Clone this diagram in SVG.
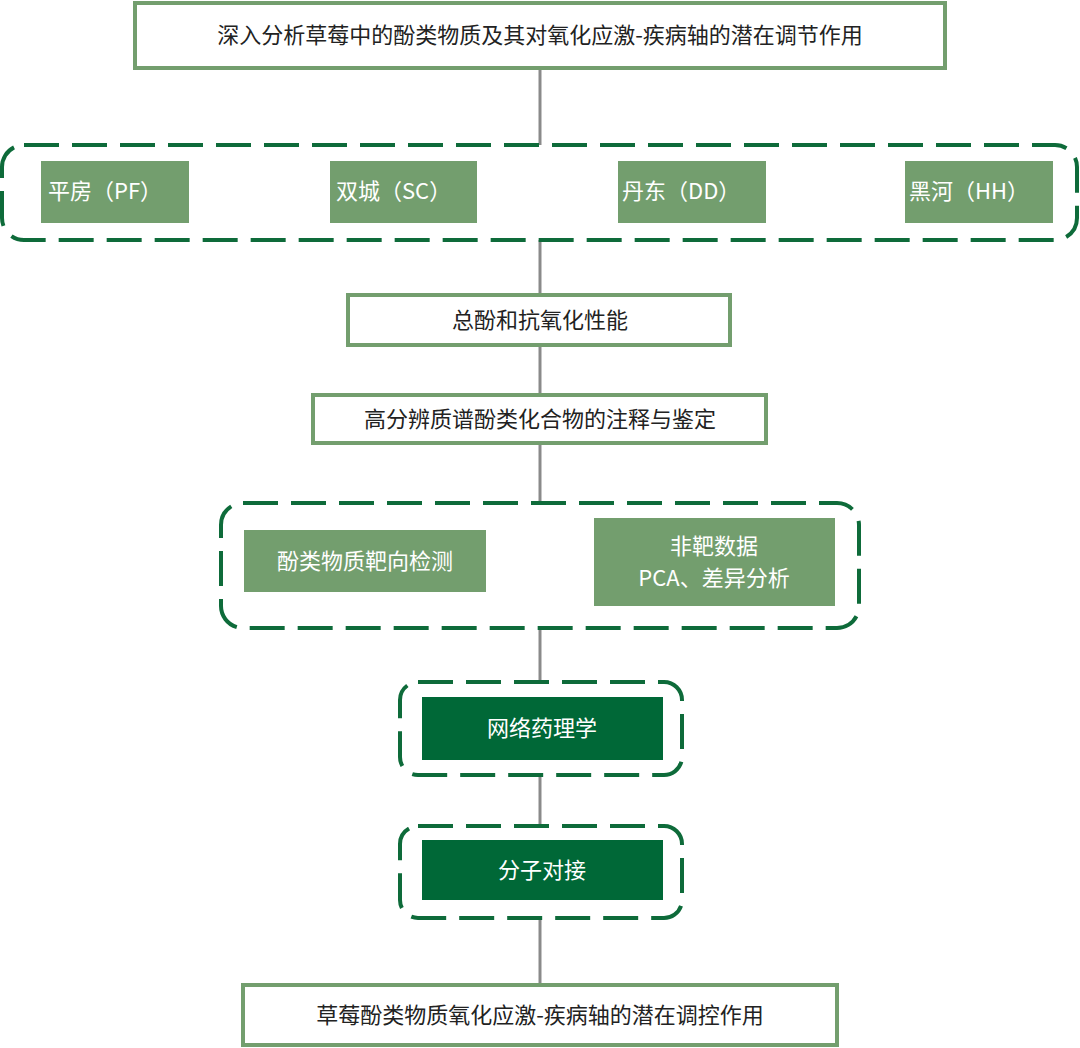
<svg xmlns="http://www.w3.org/2000/svg" width="1080" height="1048" viewBox="0 0 1080 1048">
<style>
text{font-family:"Noto Sans CJK SC","Noto Sans",sans-serif;font-size:22px;fill:#222}
.wb{fill:#fff;stroke:#739e6e;stroke-width:4}
.lg{fill:#739e6e}
.dg{fill:#006837}
.dash{fill:none;stroke:#0e6b3a;stroke-width:4;stroke-dasharray:35 13}
.w{fill:#fff}
.ln{stroke:#8a8a8a;stroke-width:3}
</style>
<rect width="1080" height="1048" fill="#fff"/>
<g id="connectors">
<line class="ln" x1="540" y1="68" x2="540" y2="145"/>
<line class="ln" x1="540" y1="240" x2="540" y2="295"/>
<line class="ln" x1="540" y1="345" x2="540" y2="395"/>
<line class="ln" x1="540" y1="443" x2="540" y2="503"/>
<line class="ln" x1="540" y1="628" x2="540" y2="682"/>
<line class="ln" x1="540" y1="775" x2="540" y2="826"/>
<line class="ln" x1="540" y1="918" x2="540" y2="985"/>
</g>
<g id="top"><rect class="wb" x="135" y="3" width="810" height="65"/><text x="540" y="43" text-anchor="middle">深入分析草莓中的酚类物质及其对氧化应激-疾病轴的潜在调节作用</text></g>
<g id="regions">
<rect class="dash" x="2" y="145" width="1075" height="95" rx="22"/>
<g id="pf"><rect class="lg" x="41" y="161" width="148" height="62"/><text class="w" x="48" y="199">平房（PF）</text></g>
<g id="sc"><rect class="lg" x="330" y="161" width="147" height="62"/><text class="w" x="336" y="199">双城（SC）</text></g>
<g id="dd"><rect class="lg" x="618" y="161" width="148" height="62"/><text class="w" x="622" y="199">丹东（DD）</text></g>
<g id="hh"><rect class="lg" x="905" y="161" width="148" height="62"/><text class="w" x="909" y="199">黑河（HH）</text></g>
</g>
<g id="phenol"><rect class="wb" x="348" y="295" width="382" height="50"/><text x="540" y="328" text-anchor="middle">总酚和抗氧化性能</text></g>
<g id="ms"><rect class="wb" x="313" y="395" width="453" height="48"/><text x="540" y="427" text-anchor="middle">高分辨质谱酚类化合物的注释与鉴定</text></g>
<g id="analysis">
<rect class="dash" x="221" y="503" width="638" height="125" rx="22"/>
<g id="target"><rect class="lg" x="244" y="530" width="242" height="62"/><text class="w" x="365" y="569" text-anchor="middle">酚类物质靶向检测</text></g>
<g id="untarget"><rect class="lg" x="594" y="518" width="241" height="88"/><text class="w" x="714" y="554" text-anchor="middle">非靶数据</text><text class="w" x="714" y="586" text-anchor="middle">PCA、差异分析</text></g>
</g>
<g id="network"><rect class="dash" x="400" y="682" width="282" height="93" rx="18"/><rect class="dg" x="422" y="697" width="241" height="63"/><text class="w" x="542" y="736" text-anchor="middle">网络药理学</text></g>
<g id="docking"><rect class="dash" x="400" y="826" width="282" height="92" rx="18"/><rect class="dg" x="422" y="840" width="241" height="60"/><text class="w" x="542" y="878" text-anchor="middle">分子对接</text></g>
<g id="bottom"><rect class="wb" x="243" y="985" width="594" height="60"/><text x="540" y="1023" text-anchor="middle">草莓酚类物质氧化应激-疾病轴的潜在调控作用</text></g>
</svg>
